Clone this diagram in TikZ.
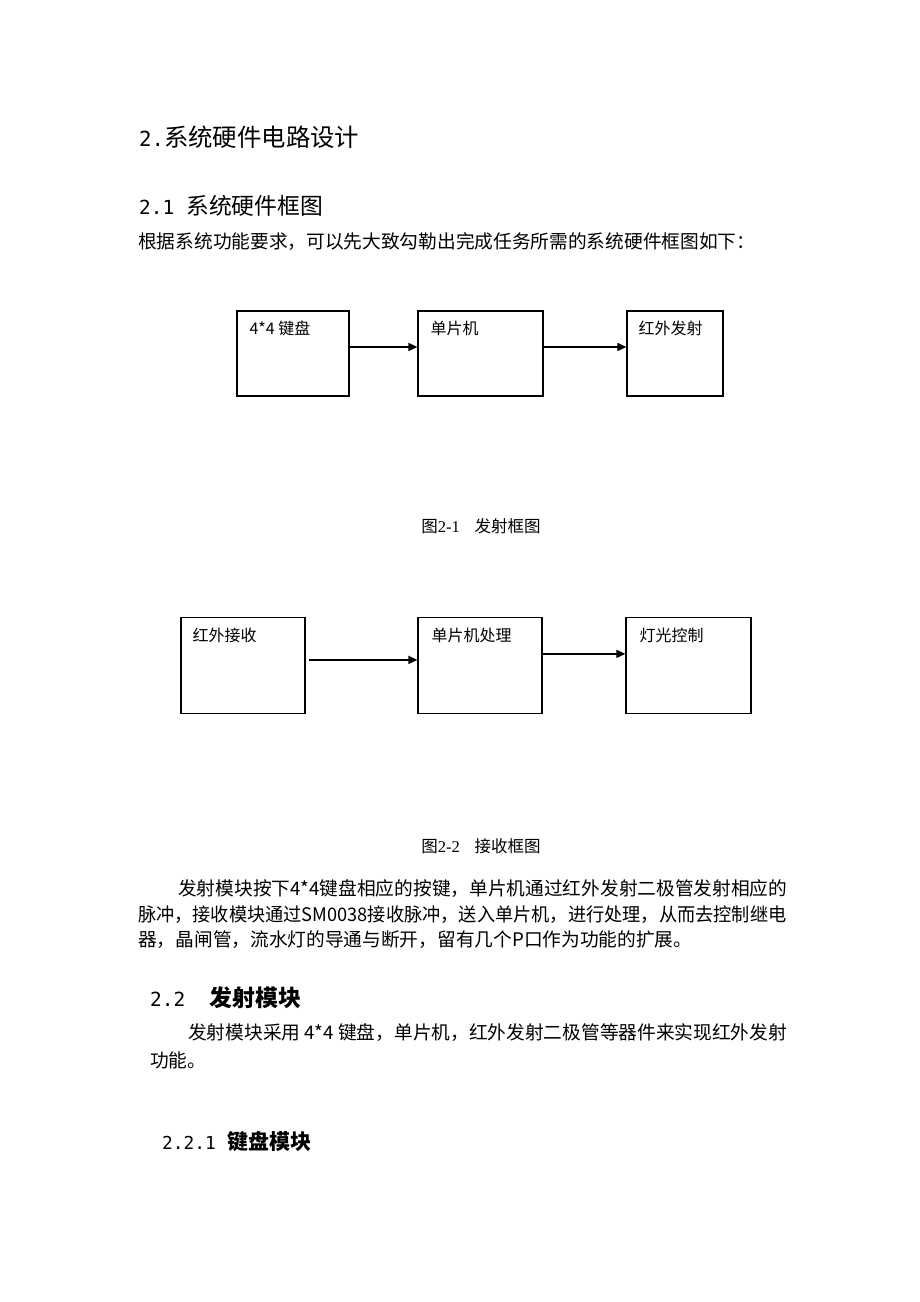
\documentclass[tikz,border=0pt]{standalone}
\usepackage{fontspec}
\setmainfont{Liberation Serif}
\newfontfamily\cjk{Noto Sans CJK SC}
\newfontfamily\num[Scale=0.85]{DejaVu Sans Mono}
\usetikzlibrary{arrows.meta,positioning}
\tikzstyle{blk} = [draw, line width=1.2pt, rectangle, inner sep=0pt, minimum height=85pt]
\tikzstyle{flow} = [line width=1.5pt, -{Triangle[length=9pt,width=8pt]}]
\tikzstyle{lbl} = [font=\cjk\fontsize{16}{18}\selectfont, anchor=north west, inner sep=0pt]
\tikzstyle{txt} = [font=\cjk\fontsize{18.7}{22}\selectfont, anchor=west, inner sep=0pt]
\tikzstyle{figcap} = [font=\fontsize{16.5}{19}\selectfont, inner sep=0pt]

\begin{document}
\begin{tikzpicture}[x=1pt, y=-1pt]
\useasboundingbox[fill=white] (0,0) rectangle (920,1302);

% 标题
\node[txt, font=\cjk\fontsize{24.4}{28}\selectfont] (h1) at (139,137) {{\num 2.}系统硬件电路设计};
\node[txt, font=\cjk\fontsize{22.8}{26}\selectfont] (h11) at (139,206) {{\num 2.1}\hspace{12pt}系统硬件框图};
\node[txt] (intro) at (138,242) {根据系统功能要求，可以先大致勾勒出完成任务所需的系统硬件框图如下：};

% 发射框图
\node[blk, minimum width=112pt] (kbd) at (293,353.5) {};
\node[blk, minimum width=125pt] (mcu) at (480.5,353.5) {};
\node[blk, minimum width=96pt] (ir) at (675,353.5) {};
\node[lbl] (kbdtxt) at ([xshift=13pt,yshift=-10pt]kbd.north west) {4*4 键盘};
\node[lbl] (mcutxt) at ([xshift=13pt,yshift=-10pt]mcu.north west) {单片机};
\node[lbl] (irtxt) at ([xshift=12pt,yshift=-10pt]ir.north west) {红外发射};
\draw[flow] ([yshift=6.5pt]kbd.east) -- ([yshift=6.5pt]mcu.west);
\draw[flow] ([yshift=6.5pt]mcu.east) -- ([yshift=6.5pt]ir.west);
\node[figcap] (cap1) at (481,526) {{\cjk 图}2-1\hspace{0.9em}{\cjk 发射框图}};

% 接收框图
\node[blk, minimum width=124pt, minimum height=95.5pt] (rx) at (243,665.4) {};
\node[blk, minimum width=124pt, minimum height=95.5pt] (proc) at (480,665.4) {};
\node[blk, minimum width=125pt, minimum height=95.5pt] (light) at (688.5,665.4) {};
\node[lbl] (rxtxt) at ([xshift=12pt,yshift=-11pt]rx.north west) {红外接收};
\node[lbl] (proctxt) at ([xshift=14pt,yshift=-11pt]proc.north west) {单片机处理};
\node[lbl] (lighttxt) at ([xshift=14pt,yshift=-11pt]light.north west) {灯光控制};
\draw[flow] ([shift={(3pt,5.5pt)}]rx.east) -- ([yshift=5.5pt]proc.west);
\draw[flow] ([yshift=11.5pt]proc.east) -- ([yshift=11.5pt]light.west);
\node[figcap] (cap2) at (481,846) {{\cjk 图}2-2\hspace{0.9em}{\cjk 接收框图}};

% 正文
\node[txt] (p1) at (178,889) {发射模块按下4*4键盘相应的按键，单片机通过红外发射二极管发射相应的};
\node[txt] (p2) at (138,914.5) {\scalebox{0.973}[1]{脉冲，接收模块通过SM0038接收脉冲，送入单片机，进行处理，从而去控制继电}};
\node[txt] (p3) at (138,940) {器，晶闸管，流水灯的导通与断开，留有几个P口作为功能的扩展。};

\node[txt, font=\cjk\bfseries\fontsize{22.9}{26}\selectfont] (h22) at (150,998) {{\num\mdseries 2.2}\hspace{24pt}发射模块};
\node[txt] (q1) at (188,1033) {发射模块采用 4*4 键盘，单片机，红外发射二极管等器件来实现红外发射};
\node[txt] (q2) at (150,1060) {功能。};

\node[txt, font=\cjk\bfseries\fontsize{21}{24}\selectfont] (h221) at (162,1142) {{\num\mdseries 2.2.1}\hspace{12pt}键盘模块};
\end{tikzpicture}
\end{document}
